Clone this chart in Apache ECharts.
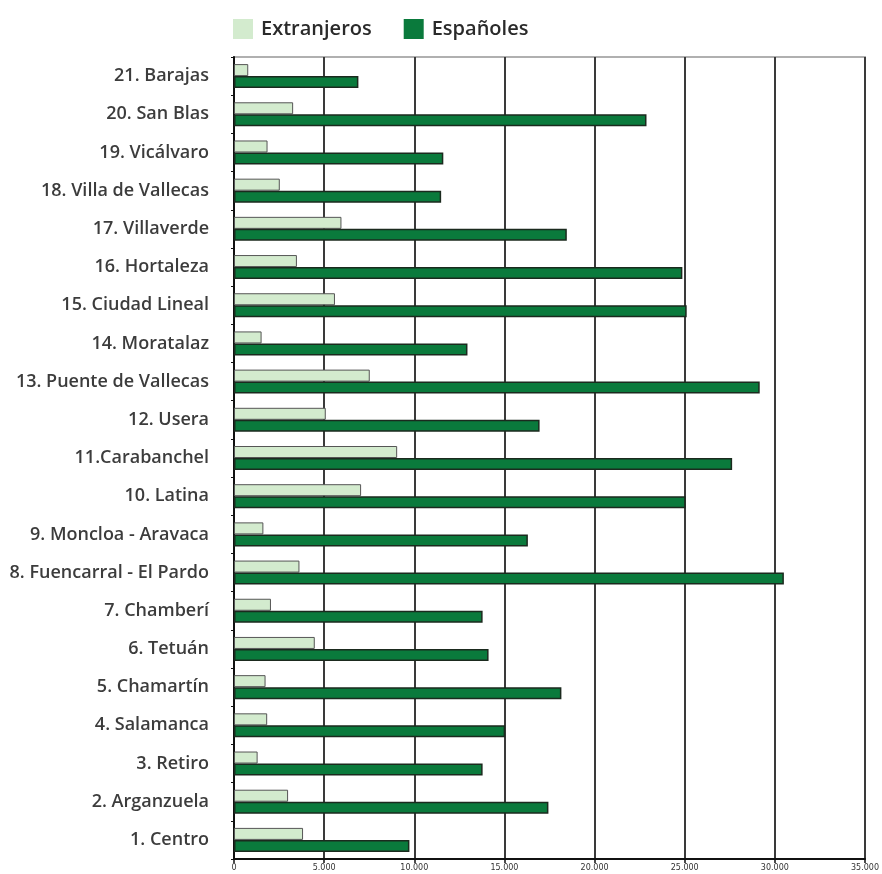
<!DOCTYPE html>
<html>
<head>
<meta charset="utf-8">
<script src="https://cdn.jsdelivr.net/npm/echarts@6/dist/echarts.min.js"></script>
<style>
html,body{margin:0;padding:0;background:#fff;}
#chart{width:882px;height:874px;}
</style>
</head>
<body>
<div id="chart"></div>
<script>
const categories = [
  "1. Centro", "2. Arganzuela", "3. Retiro", "4. Salamanca", "5. Chamartín",
  "6. Tetuán", "7. Chamberí", "8. Fuencarral - El Pardo", "9. Moncloa - Aravaca",
  "10. Latina", "11.Carabanchel", "12. Usera", "13. Puente de Vallecas",
  "14. Moratalaz", "15. Ciudad Lineal", "16. Hortaleza", "17. Villaverde",
  "18. Villa de Vallecas", "19. Vicálvaro", "20. San Blas", "21. Barajas"
];
const extranjeros = [3830, 3000, 1310, 1840, 1750, 4480, 2050, 3630, 1630, 7050, 9050, 5090, 7530, 1530, 5600, 3490, 5960, 2540, 1860, 3280, 790];
const espanoles = [9730, 17440, 13790, 15040, 18160, 14120, 13790, 30500, 16300, 25050, 27630, 16950, 29160, 12950, 25110, 24870, 18460, 11490, 11610, 22880, 6900];
const xTickValues = [0, 5000, 10000, 15000, 20000, 25000, 30000, 35000];

const chart = echarts.init(document.getElementById('chart'), null, {renderer: 'canvas'});
chart.setOption({
  animation: false,
  backgroundColor: '#ffffff',
  legend: {
    data: ['Extranjeros', 'Españoles'],
    left: 228,
    top: 14,
    itemWidth: 20,
    itemHeight: 20,
    itemGap: 32,
    icon: 'rect',
    itemStyle: {borderWidth: 0},
    textStyle: {fontFamily: 'Open Sans', fontWeight: 600, fontSize: 20, color: '#2a2a2a', padding: [0, 0, 0, 3]}
  },
  grid: {left: 234, right: 16, top: 57, bottom: 15, containLabel: false, show: true, borderColor: '#b0b0b0', borderWidth: 2},
  xAxis: {
    type: 'value',
    min: 0, max: 35000, interval: 5000,
    axisLine: {show: true, lineStyle: {color: '#111', width: 2}},
    axisTick: {show: true, length: 4, lineStyle: {color: '#111', width: 1.5}},
    splitLine: {show: true, lineStyle: {color: '#3a3a3a', width: 2}},
    axisLabel: {
      fontFamily: 'DejaVu Sans', fontSize: 8, color: '#333', margin: 5,
      formatter: function (v) { return xTickValues.indexOf(v) >= 0 ? v.toLocaleString('de-DE') : ''; }
    }
  },
  yAxis: {
    type: 'category',
    data: categories,
    axisLine: {show: true, lineStyle: {color: '#111', width: 2}},
    axisTick: {show: true, length: 3, lineStyle: {color: '#111'}},
    axisLabel: {fontFamily: 'Open Sans', fontWeight: 600, fontSize: 18, color: '#3c3c3c', margin: 25}
  },
  series: [
    {
      name: 'Extranjeros', type: 'bar', data: extranjeros,
      barWidth: 12, barGap: '0%',
      itemStyle: {color: '#d3ebce', borderColor: '#555', borderWidth: 1}
    },
    {
      name: 'Españoles', type: 'bar', data: espanoles,
      barWidth: 12, barGap: '0%',
      itemStyle: {color: '#0a7a3c', borderColor: '#1b2a1e', borderWidth: 1.5}
    }
  ]
});
</script>
</body>
</html>
